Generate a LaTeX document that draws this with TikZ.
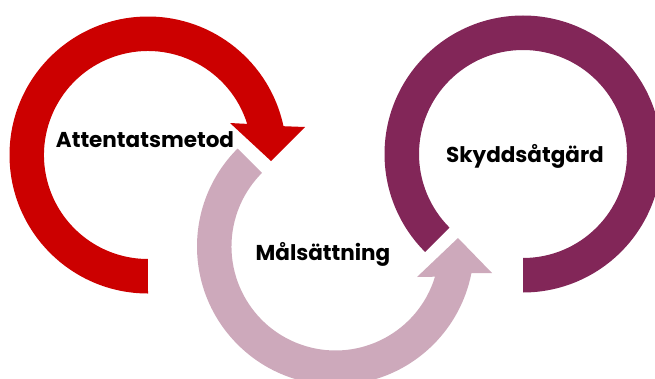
\documentclass[tikz,border=0pt]{standalone}
\usepackage{fontspec}
\setmainfont{Poppins}
\definecolor{redc}{RGB}{204,0,0}
\definecolor{pinkc}{RGB}{205,169,187}
\definecolor{purplec}{RGB}{130,38,88}
\tikzset{lab/.style={font=\fontsize{21.5}{25}\selectfont\bfseries, text=black, inner sep=0pt, anchor=base}}
\begin{document}
\begin{tikzpicture}[x=1pt,y=-1pt]
\useasboundingbox (0,0) rectangle (655,378);
\clip (0,0) rectangle (655,378);
% red arrow
\fill[redc] (148,293.5) arc[start angle=90,end angle=348,radius=138.5]
  -- (305,127) -- (271,161) -- (230,123) -- (247.2,123.9)
  arc[start angle=342.6,end angle=90,radius=104] -- cycle;
% pink arrow
\fill[pinkc] (237.57,148.57) arc[start angle=225,end angle=11.1,radius=138.5]
  -- (492,273) -- (458,238) -- (417,277) -- (435.0,276.7)
  arc[start angle=16.9,end angle=225,radius=104] -- cycle;
% purple ring
\fill[purplec] (425.07,251.93) arc[start angle=135,end angle=450,radius=138.5]
  -- ++(0,-34.5) arc[start angle=450,end angle=135,radius=104] -- cycle;
\node[lab] (a) at (145,147) {Attentatsmetod};
\node[lab] (m) at (323,260) {Målsättning};
\node[lab] (s) at (525,162) {Skyddsåtgärd};
\end{tikzpicture}
\end{document}
